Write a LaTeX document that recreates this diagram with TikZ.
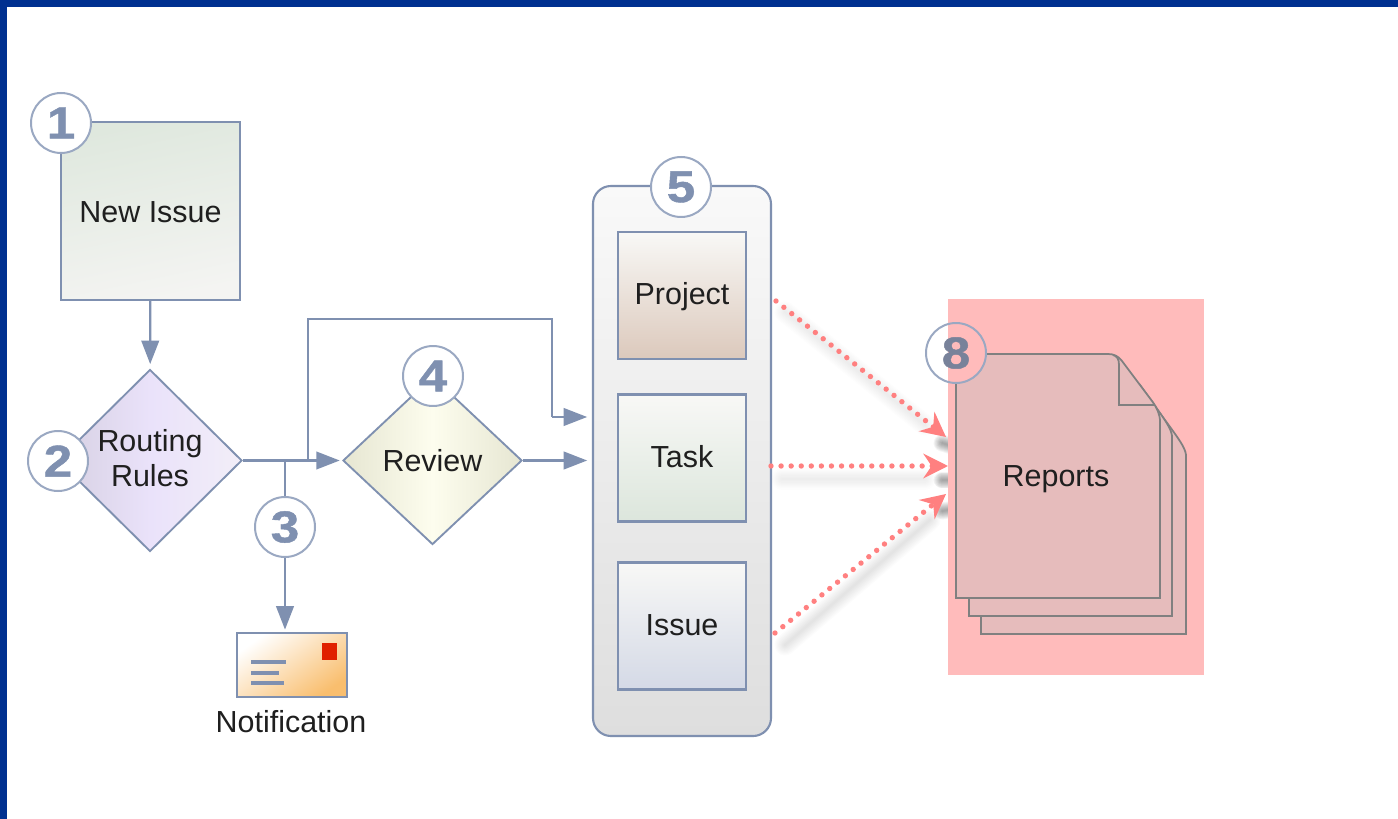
\documentclass[tikz,border=0pt]{standalone}
\usepackage{fontspec}
\setmainfont{Liberation Sans}
\newfontfamily\badgefont[BoldFeatures={FakeStretch=1.15,FakeBold=1}]{Liberation Sans}
\usetikzlibrary{arrows.meta,shapes.geometric}
\definecolor{framecol}{HTML}{003090}
\definecolor{linecol}{HTML}{7F90B0}
\definecolor{ringcol}{HTML}{9AA8C2}
\definecolor{pinkcol}{HTML}{FFBBBB}
\definecolor{sheetcol}{HTML}{E6BCBC}
\definecolor{dotcol}{HTML}{FF8080}
\definecolor{eightcol}{HTML}{78829A}
\definecolor{issuetop}{HTML}{DFE8DE}
\definecolor{issuelow}{HTML}{F4F4F2}
\definecolor{routeleft}{HTML}{D6D0E2}
\definecolor{routemid}{HTML}{EAE2FA}
\definecolor{routeright}{HTML}{F2EEF8}
\definecolor{reviewedge}{HTML}{E6E6D2}
\definecolor{reviewmid}{HTML}{FDFDEE}
\definecolor{paneltop}{HTML}{F9F9F9}
\definecolor{panellow}{HTML}{DEDEDE}
\definecolor{boxtop}{HTML}{F8F8F6}
\definecolor{projectlow}{HTML}{DCC9BC}
\definecolor{tasklow}{HTML}{DCE6DC}
\definecolor{typelow}{HTML}{D4D9E6}
\definecolor{envelopelow}{HTML}{F9BE6E}
\definecolor{stampcol}{HTML}{E02000}
\tikzset{
    every node/.style={font=\fontsize{26}{30}\selectfont, text=black!88},
    boxnode/.style={draw=linecol, line width=1.8pt, minimum width=3.84cm, minimum height=3.81cm, inner sep=0pt, text height=18.7pt, text depth=3.1pt, top color=boxtop, bottom color=#1},
    decision/.style={diamond, draw=linecol, line width=1.6pt, inner sep=0pt},
    badge/.style={circle, draw=ringcol, line width=1.7pt, fill=white, minimum size=1.8cm, inner sep=0pt, text=linecol, font=\badgefont\fontsize{38}{38}\selectfont\bfseries},
    link/.style={draw=linecol, line width=1.9pt},
    flow/.style={link, -{Triangle[length=20pt,width=15pt]}, shorten >=#1},
    flow/.default=5pt,
    sheet/.style={draw=black!50, line width=1.5pt, fill=sheetcol},
    dotflow/.style={draw=dotcol, line width=4.6pt, line cap=round, dash pattern=on 0pt off 8.6pt, -{Stealth[length=21pt,width=21pt,inset=7pt]}},
}
\begin{document}
\begin{tikzpicture}[x = 0.03cm, y = -0.03cm]
    \useasboundingbox (0,0) rectangle (1398,819);
    \fill[white] (0,0) rectangle (1398,819);
    \fill[framecol] (0,0) rectangle (1398,7);
    \fill[framecol] (0,0) rectangle (7,819);

    % soft shadows of the report arrows
    \coordinate (projectout) at (776,301);
    \coordinate (taskout) at (771,466);
    \coordinate (issueout) at (775,633);
    \coordinate (reportstop) at (946,437);
    \coordinate (reportsmid) at (948,466);
    \coordinate (reportslow) at (946,494);
    \foreach \w in {2,4,...,18} {
        \draw[black, opacity=0.009, line width=\w pt, line cap=round] (785,312) -- (925,425);
        \draw[black, opacity=0.008, line width=\w pt, line cap=round] (782,479) -- (925,479);
        \draw[black, opacity=0.01, line width=\w pt, line cap=round] (785,645) -- (930,520);
        \draw[black, opacity=0.045, line width=0.8*\w pt, line cap=round] (942,443) -- (955,447);
        \draw[black, opacity=0.045, line width=0.8*\w pt, line cap=round] (942,480) -- (955,480);
        \draw[black, opacity=0.045, line width=0.8*\w pt, line cap=round] (942,511) -- (955,509);
    }

    \fill[pinkcol] (948,299) rectangle (1204,675);

    % sheets of the report, back to front
    \draw[sheet] (981,590) -- (981,634) -- (1186,634) -- (1186,455) .. controls (1185,447) and (1180,440) .. (1150,400) -- cycle;
    \draw[sheet] (969,590) -- (969,616) -- (1172,616) -- (1172,436) .. controls (1171,428) and (1166,421) .. (1140,385) -- cycle;
    \draw[sheet] (956,354) -- (1108,354) .. controls (1114,354) and (1118,356) .. (1122,361) -- (1152,401) .. controls (1157,408) and (1160,414) .. (1160,422) -- (1160,598) -- (956,598) -- cycle;
    \draw[sheet, fill=none] (1113,355) .. controls (1117,356) and (1119,359) .. (1119,365) -- (1119,405) -- (1154,405);
    \node (reports) at (1056,479) {Reports};

    \node[draw=linecol, line width=1.8pt, inner sep=0pt, shading=axis, top color=issuetop, bottom color=issuelow, shading angle=12, text height=23.4pt, text depth=4.6pt, minimum width=5.37cm, minimum height=5.34cm] (newissue) at (150.5,211) {New Issue};
    \node[decision, left color=routeleft, right color=routeright, middle color=routemid, minimum width=5.52cm, minimum height=5.46cm] (routing) at (150,460.5) {};
    \node[align=center] (routinglabel) at (150,458.5) {Routing\\Rules};
    \node[decision, left color=reviewedge, right color=reviewedge, middle color=reviewmid, minimum width=5.37cm, minimum height=5.04cm] (review) at (432.5,460.5) {Review};

    \node[draw=linecol, line width=1.8pt, rounded corners=0.54cm, top color=paneltop, bottom color=panellow, minimum width=5.34cm, minimum height=16.5cm, inner sep=0pt] (container) at (682,461) {};
    \node[boxnode=projectlow] (project) at (682,295.5) {Project};
    \node[boxnode=tasklow] (task) at (682,458) {Task};
    \node[boxnode=typelow] (issue) at (682,626) {Issue};

    % envelope
    \node[draw=linecol, line width=1.8pt, minimum width=3.3cm, minimum height=1.92cm, inner sep=0pt, shading=axis, top color=white, bottom color=envelopelow, shading angle=35] (envelope) at (292,665) {};
    \fill[stampcol] (322,643) rectangle (337,660);
    \draw[linecol, line width=3.6pt] (251,662) -- (286,662);
    \draw[linecol, line width=3.6pt] (251,673) -- (279,673);
    \draw[linecol, line width=3.6pt] (251,683) -- (284,683);
    \node (notification) at (291,722) {Notification};

    % connectors
    \coordinate (notifyjoin) at (285,460.5);
    \coordinate (upjoin) at (308,460.5);
    \coordinate (elbow) at (552,319);
    \coordinate (taskin) at (593,417);
    \coordinate (reviewin) at (593,460.5);
    \draw[flow=4pt] (newissue) -- (routing);
    \draw[flow=2pt] (routing.east) -- (review.west);
    \draw[link] (upjoin) |- (elbow) -- (elbow |- taskin);
    \draw[flow] (elbow |- taskin) -- (taskin);
    \draw[flow] (review.east) -- (reviewin);

    \node[badge] (badgeone) at (61,123) {1};
    \node[badge] (badgetwo) at (58,461) {2};
    \node[badge] (badgethree) at (285,527) {3};
    \node[badge] (badgefour) at (433,376) {4};
    \node[badge] (badgefive) at (681,187) {5};
    \node[badge, fill=pinkcol, text=eightcol, path picture={\fill[white] (path picture bounding box.south west) rectangle ([xshift=-6.8pt]path picture bounding box.north);}] (badgeeight) at (956,353) {8};

    \draw[link] (notifyjoin) -- (badgethree);
    \draw[flow=2pt] (badgethree) -- (badgethree |- envelope.north);

    \draw[dotflow] (projectout) -- (reportstop);
    \draw[dotflow] (taskout) -- (reportsmid);
    \draw[dotflow] (issueout) -- (reportslow);
\end{tikzpicture}
\end{document}
